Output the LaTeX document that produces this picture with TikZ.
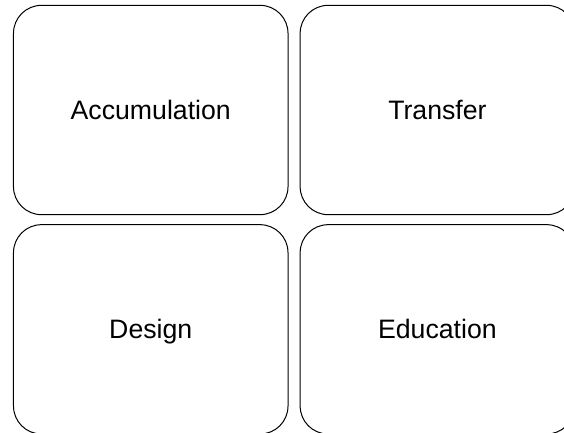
\documentclass[tikz,border=0pt]{standalone}
\usepackage{fontspec}
\setmainfont{Liberation Sans}
\usetikzlibrary{positioning}

\begin{document}
\begin{tikzpicture}[x=0.75pt,y=-0.75pt,node distance=164.5pt and 215pt,on grid,
    box/.style={draw,line width=0.75pt,rounded corners=21pt,minimum width=205.9pt,
      minimum height=157pt,inner sep=0pt,text depth=0pt,font=\fontsize{20}{24}\selectfont}]
  \useasboundingbox (0,0) rectangle (564,432);
  \node[box] (acc) at (150.75,110) {Accumulation};
  \node[box] (tra) [right=of acc] {Transfer};
  \node[box] (des) [below=of acc] {Design};
  \node[box] (edu) [right=of des] {Education};
\end{tikzpicture}
\end{document}
